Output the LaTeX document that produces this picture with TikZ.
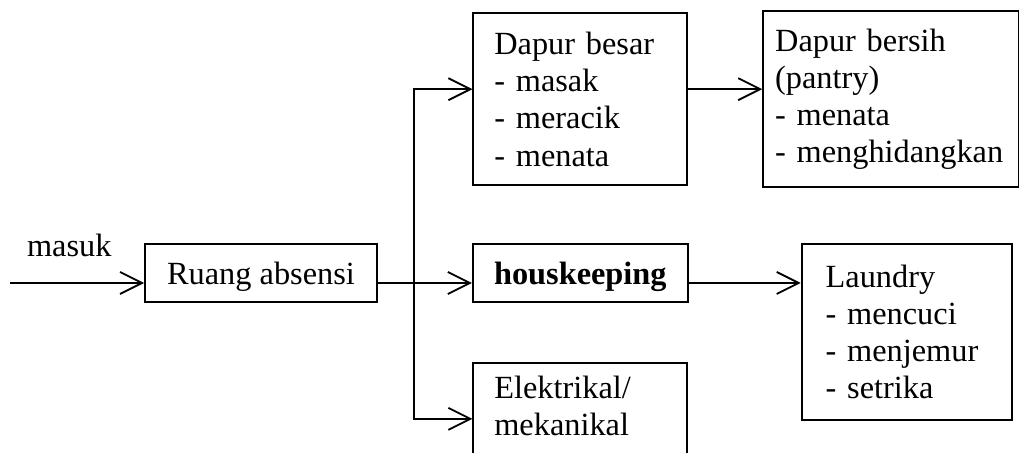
\documentclass[tikz,border=0pt]{standalone}
\usepackage{fontspec}
\setmainfont{Liberation Serif}
\usepackage{tikz}
\usetikzlibrary{arrows.meta, positioning}

\begin{document}
\begin{tikzpicture}[
        node distance=14.75mm and 23.5mm,
        font=\fontsize{23}{26.5}\selectfont,
        box/.style={rectangle, draw, line width=1.3pt, align=left,
                    inner xsep=5.25mm, text width=43mm, minimum height=43mm},
        smallbox/.style={rectangle, draw, line width=1.3pt, align=center,
                    minimum height=14.5mm, inner sep=0pt, text depth=0pt},
        arr/.style={-{Straight Barb[length=5.5mm, width=5.5mm]}, line width=1.3pt}
    ]
    \useasboundingbox (0,0) rectangle (25.475,-11.325);
    % Entry
    \node[smallbox, minimum width=58mm] (ra) at (6.525,-6.825) {Ruang absensi};
    \coordinate (in) at (0.25,-7.075);
    \node[anchor=base west, inner sep=0pt] (masuk) at (0.67,-6.425) {masuk};

    % Middle column
    \node[smallbox, minimum width=53.75mm, right=of ra] (hk) {\textbf{houskeeping}};
    \node[box, above=of hk, yshift=-0.5mm] (db) {Dapur besar\\- masak\\- meracik\\- menata};
    \node[box, minimum height=0pt, inner ysep=3.2mm, below=of hk] (ek) {Elektrikal/\\mekanikal\\[20mm]\mbox{}};

    % Right column
    \node[box, right=18.5mm of db, text width=58mm, inner xsep=3mm, minimum height=44mm] (dp)
        {Dapur bersih\\(pantry)\\- menata\\- menghidangkan};
    \node[box, right=28mm of hk.north east, anchor=north west, text width=40.5mm,
          inner xsep=6mm, minimum height=44mm] (ld) {Laundry\\- mencuci\\- menjemur\\- setrika};

    % Connections
    \coordinate (br) at (10.35,-7.075);
    \draw[arr] (in) -- (in -| ra.west);
    \draw[arr] (ra.east |- in) -- (hk.west |- in);
    \draw[arr] (br) |- ([yshift=2.5mm]db.west);
    \draw[arr] (br) |- ([yshift=-14.25mm]ek.north west);
    \draw[arr] ([yshift=2.5mm]db.east) -- ([yshift=2.5mm]db.east -| dp.west);
    \draw[arr] (hk.east |- in) -- (ld.west |- in);
\end{tikzpicture}
\end{document}
